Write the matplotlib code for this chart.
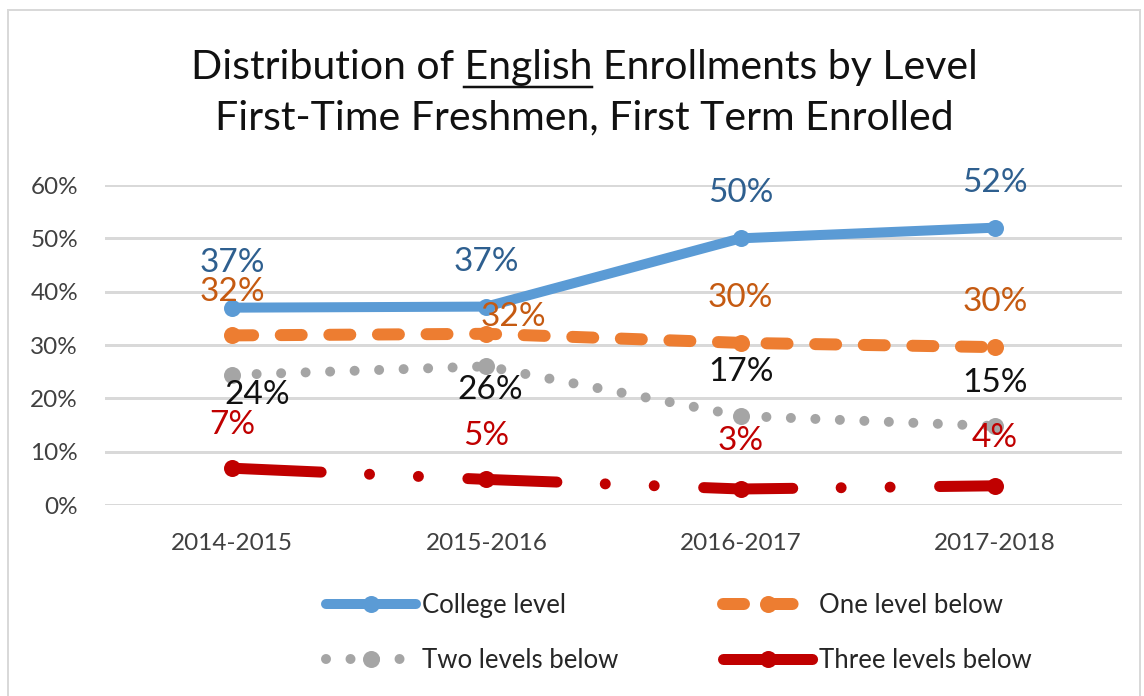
import matplotlib
matplotlib.use("Agg")
import matplotlib.pyplot as plt
from matplotlib.lines import Line2D
from matplotlib.patches import Rectangle

plt.rcParams['font.family'] = ['Lato', 'DejaVu Sans']

# ---- data ----
years = ["2014-2015", "2015-2016", "2016-2017", "2017-2018"]
college = [0.370, 0.372, 0.500, 0.520]
one_below = [0.318, 0.321, 0.304, 0.296]
two_below = [0.244, 0.260, 0.167, 0.148]
three_below = [0.069, 0.048, 0.030, 0.036]
series_names = ["College level", "One level below", "Two levels below", "Three levels below"]
title_line1_parts = ["Distribution of ", "English", " Enrollments by Level"]
title_line2 = "First-Time Freshmen, First Term Enrolled"
yticks = [0.0, 0.1, 0.2, 0.3, 0.4, 0.5, 0.6]

# ---- styles ----
W, H = 1144, 696
DPI = 100
px = 72.0 / DPI  # points per pixel

colors = ["#5B9BD5", "#ED7D31", "#A5A5A5", "#C00000"]
label_colors = ["#2E5F8F", "#C55A11", "#111111", "#C00000"]
lws = [10 * px, 12 * px, 10 * px, 11 * px]
styles = ["-",
          (0, (1.75, 2.3)),
          (0, (0.001, 2.45)),
          (0, (8.1, 4.4, 0.001, 4.45, 0.001, 4.5))]
marker_sizes = [17 * px, 17 * px, 17 * px, 17 * px]

# label offsets (pixels; dx, dy)
offsets = [
    [(0, 45), (0, 45), (0, 45), (0, 45)],
    [(0, 43), (27, 17), (0, 45), (0, 45)],
    [(25, -20), (4, -24), (0, 44), (0, 43)],
    [(0, 43), (0, 43), (0, 48), (0, 48)],
]

fig = plt.figure(figsize=(W / DPI, H / DPI), dpi=DPI)
fig.patch.set_facecolor("white")

# outer chart border
fig.add_artist(Rectangle((8 / W, -0.01), (1140 - 8) / W, 1 - 10 / H + 0.01,
                         transform=fig.transFigure, fill=False,
                         edgecolor="#D9D9D9", lw=2 * px))

ax = fig.add_axes([105 / W, 1 - 505 / H, 1017 / W, 320 / H])
x = list(range(len(years)))
all_series = [college, one_below, two_below, three_below]

handles = []
for i, (vals, name) in enumerate(zip(all_series, series_names)):
    ln, = ax.plot(x, vals, color=colors[i], lw=lws[i], linestyle=styles[i],
                  dash_capstyle="round", solid_capstyle="round",
                  marker="o", markersize=marker_sizes[i], markeredgewidth=0,
                  clip_on=False, zorder=3 + (3 - i) * 0.1, label=name)
    handles.append(ln)
    for j, v in enumerate(vals):
        dx, dy = offsets[i][j]
        ax.annotate(f"{round(v * 100):.0f}%", (x[j], v),
                    xytext=(dx * px, dy * px), textcoords="offset points",
                    ha="center", va="center", fontsize=24,
                    color=label_colors[i], zorder=10)

ax.set_xlim(-0.5, 3.5)
ax.set_ylim(0, 0.6)
ax.set_yticks(yticks)
ax.set_yticklabels([f"{int(round(t * 100))}%" for t in yticks])
ax.set_xticks(x)
ax.set_xticklabels(years)
ax.tick_params(axis="both", length=0, labelsize=17.5, colors="#404040")
ax.tick_params(axis="y", pad=27 * px)
ax.tick_params(axis="x", pad=28 * px)
ax.grid(axis="y", color="#D9D9D9", lw=3 * px)
ax.set_axisbelow(True)
for s in ax.spines.values():
    s.set_visible(False)
ax.set_facecolor("none")

# ---- title with underlined word ----
cx = 584 / W
title_fs = 29.5
y1 = 1 - 79 / H
y2 = 1 - 129 / H
full1 = "".join(title_line1_parts)
t1 = fig.text(cx, y1, full1, ha="center", va="baseline", fontsize=title_fs, color="#111111")
fig.text(cx, y2, title_line2, ha="center", va="baseline", fontsize=title_fs, color="#111111")
fig.canvas.draw()
r = fig.canvas.get_renderer()
bb = t1.get_window_extent(r)


def text_w(s):
    tt = fig.text(0, 0, s, fontsize=title_fs)
    w = tt.get_window_extent(r).width
    tt.remove()
    return w


w_a = text_w(title_line1_parts[0] + title_line1_parts[1])
w_e = text_w(title_line1_parts[1])
x_end = bb.x0 + w_a
x_start = x_end - w_e
uy = 1 - 87 / H
fig.add_artist(Line2D([x_start / W, x_end / W], [uy, uy], transform=fig.transFigure,
                      color="#111111", lw=2.5 * px))

# ---- legend ----
order = [0, 2, 1, 3]
leg = fig.legend([handles[k] for k in order], [series_names[k] for k in order],
                 ncol=2, loc="upper left", bbox_to_anchor=(326 / W, 1 - 593 / H),
                 frameon=False, fontsize=18.5, handlelength=3.5, handletextpad=0.25,
                 columnspacing=4.05, labelspacing=1.15, borderpad=0, borderaxespad=0,
                 numpoints=1, labelcolor="#262626")

fig.savefig("out.png", dpi=DPI, facecolor="white")
